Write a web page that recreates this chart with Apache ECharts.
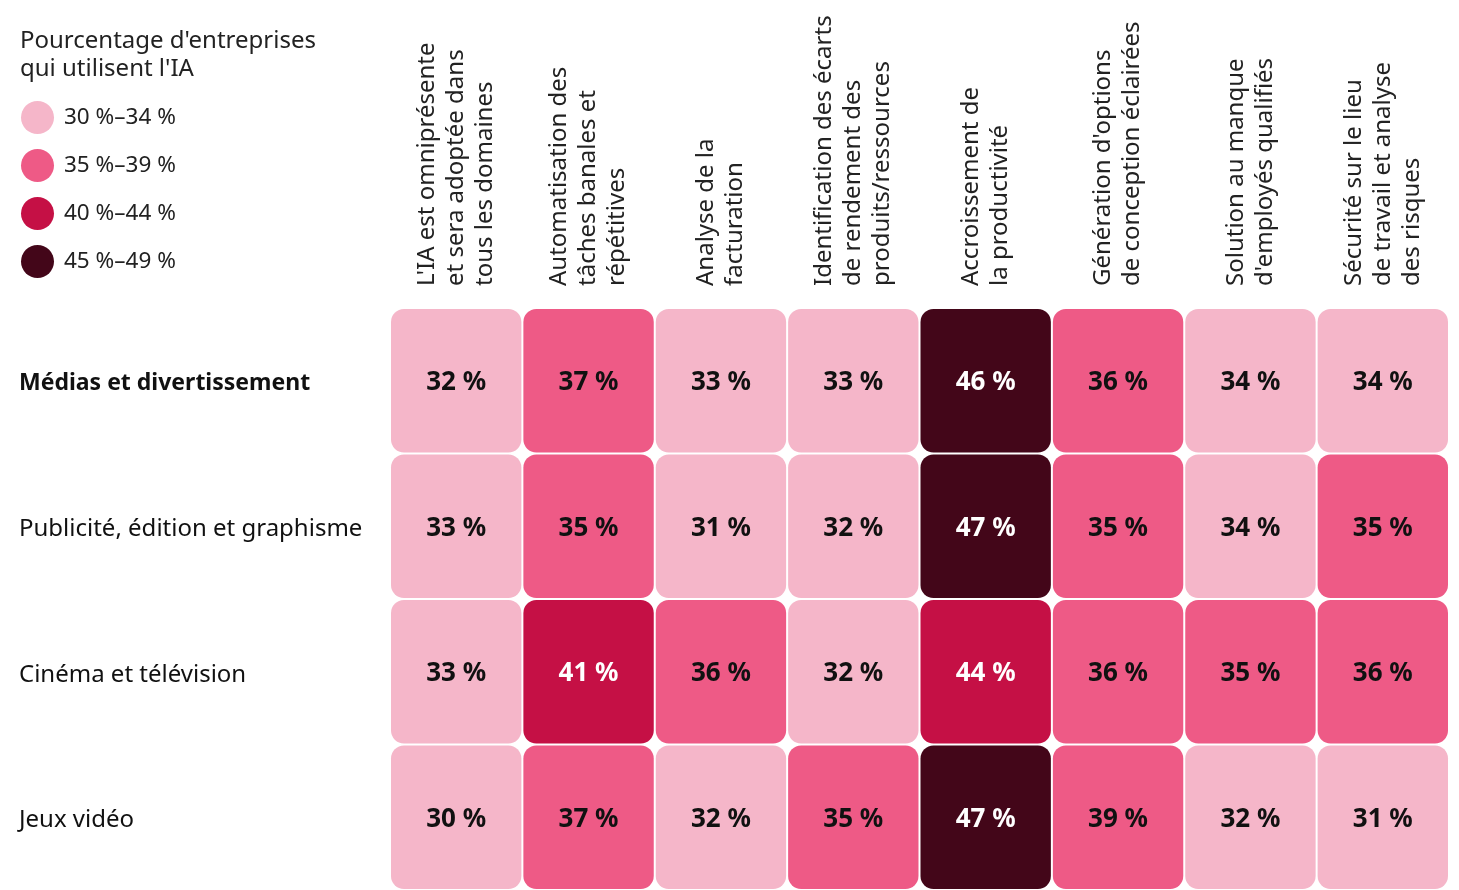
<!DOCTYPE html>
<html><head><meta charset="utf-8">
<script src="https://cdn.jsdelivr.net/npm/echarts@6/dist/echarts.min.js"></script>
<style>html,body{margin:0;padding:0;background:#fff}#c{width:1459px;height:890px}</style>
</head><body><div id="c"></div>
<script>
const columns = [
  "L'IA est omniprésente\net sera adoptée dans\ntous les domaines",
  "Automatisation des\ntâches banales et\nrépétitives",
  "Analyse de la\nfacturation",
  "Identification des écarts\nde rendement des\nproduits/ressources",
  "Accroissement de\nla productivité",
  "Génération d'options\nde conception éclairées",
  "Solution au manque\nd'employés qualifiés",
  "Sécurité sur le lieu\nde travail et analyse\ndes risques"
];
const rows = ["Médias et divertissement", "Publicité, édition et graphisme", "Cinéma et télévision", "Jeux vidéo"];
const mediasValues     = [32, 37, 33, 33, 46, 36, 34, 34];
const publiciteValues  = [33, 35, 31, 32, 47, 35, 34, 35];
const cinemaValues     = [33, 41, 36, 32, 44, 36, 35, 36];
const jeuxValues       = [30, 37, 32, 35, 47, 39, 32, 31];
const legendTitle = "Pourcentage d'entreprises\nqui utilisent l'IA";
const bins = [
  {min: 30, max: 34, label: "30 %–34 %", color: "#F5B6C9"},
  {min: 35, max: 39, label: "35 %–39 %", color: "#EE5A86"},
  {min: 40, max: 44, label: "40 %–44 %", color: "#C51045"},
  {min: 45, max: 49, label: "45 %–49 %", color: "#430619"}
];

const allRows = [mediasValues, publiciteValues, cinemaValues, jeuxValues];
const data = [];
allRows.forEach((vals, r) => vals.forEach((v, c) => data.push([c, r, v])));

const FONT = "'Noto Sans', sans-serif";
const chart = echarts.init(document.getElementById('c'));
chart.setOption({
  backgroundColor: '#fff',
  animation: false,
  title: {
    text: legendTitle, left: 20, top: 27, padding: 0,
    textStyle: {fontFamily: FONT, fontSize: 24, fontWeight: 'normal', color: '#222', lineHeight: 28}
  },
  grid: {left: 390, right: 10, top: 308, bottom: -2},
  xAxis: {
    type: 'category', data: columns, position: 'top',
    axisLine: {show: false}, axisTick: {show: false}, splitLine: {show: false},
    axisLabel: {rotate: -90, margin: 22, interval: 0, fontFamily: FONT, fontSize: 24, color: '#222', lineHeight: 29, padding: [6, 0, 0, 0]}
  },
  yAxis: {
    type: 'category', data: rows, inverse: true,
    axisLine: {show: false}, axisTick: {show: false}, splitLine: {show: false},
    axisLabel: {
      margin: 371, align: 'left', fontFamily: FONT, fontSize: 24, color: '#111', padding: [6, 0, 0, 0],
      formatter: (v, i) => i === 0 ? '{b|' + v + '}' : v,
      rich: {b: {fontFamily: FONT, fontSize: 23, fontWeight: 'bold', color: '#111'}}
    }
  },
  visualMap: {
    type: 'piecewise', dimension: 2, seriesIndex: 0, inverse: true,
    pieces: bins.map(b => ({min: b.min, max: b.max, label: b.label, color: b.color})),
    orient: 'vertical', left: 6, top: 86,
    itemSymbol: 'circle', itemWidth: 33, itemHeight: 33, itemGap: 15, textGap: 10,
    selectedMode: false, showLabel: true,
    textStyle: {fontFamily: FONT, fontSize: 22.5, color: '#222'}
  },
  series: [{
    type: 'custom',
    data: data,
    encode: {x: 0, y: 1},
    renderItem: function (params, api) {
      const p = api.coord([api.value(0), api.value(1)]);
      const s = api.size([1, 1]);
      const w = s[0] - 2, h = s[1] - 2;
      const v = api.value(2);
      return {
        type: 'rect',
        shape: {x: p[0] - w / 2, y: p[1] - h / 2, width: w, height: h, r: 13},
        style: {fill: api.visual('color')},
        textContent: {
          style: {text: v + ' %', fill: v >= 40 ? '#fff' : '#111', fontFamily: FONT, fontSize: 26, fontWeight: 'bold'}
        },
        textConfig: {position: 'inside', offset: [0, 2]}
      };
    }
  }]
});
</script></body></html>
